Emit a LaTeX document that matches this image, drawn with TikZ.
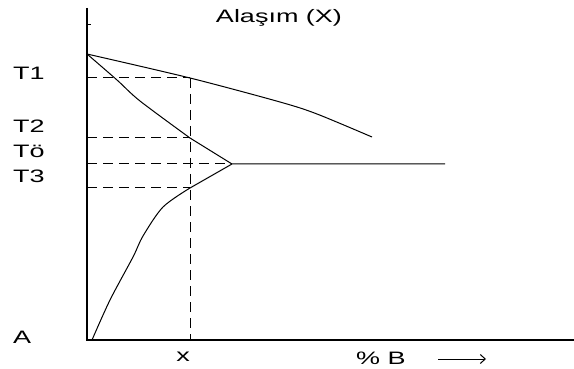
\documentclass[tikz,border=0pt]{standalone}
\usepackage{fontspec}
\newfontfamily\lab[FakeStretch=1.5]{Liberation Sans}
\usetikzlibrary{arrows.meta}
\tikzset{
  axis/.style={line width=1.5pt},
  curve/.style={line width=1pt},
  guide/.style={line width=1pt, dash pattern=on 10pt off 6pt},
  lbl/.style={font=\lab\fontsize{18}{20}\selectfont, inner sep=0pt}
}
\begin{document}
\begin{tikzpicture}[x=1pt,y=-1pt]
\useasboundingbox (0,0) rectangle (574,369);
% coordinates
\coordinate (top) at (87,8);
\coordinate (O) at (87,340);
\coordinate (xend) at (574,340);
\coordinate (tick) at (91,25);
\coordinate (tickb) at (87,25);
\coordinate (TA) at (87,54);
\coordinate (P1) at (190,78);
\coordinate (Lend) at (372,137);
\coordinate (P2) at (190,138);
\coordinate (E) at (232,164);
\coordinate (Eend) at (445,164);
\coordinate (P3) at (190,188);
\coordinate (B0) at (92,340);
\coordinate (Y1) at (87,78);
\coordinate (Y2) at (87,138);
\coordinate (Y3) at (87,164);
\coordinate (Y4) at (87,188);
\coordinate (Xb) at (190,340);
% axes
\draw[axis] (top) -- (O) -- (xend);
\draw[curve] (tickb) -- (tick);
% curves
\draw[curve] plot[smooth, tension=0.5] coordinates {(87,54) (190,78) (280,102) (317,114) (372,137)};
\draw[curve] plot[smooth, tension=0.5] coordinates {(87,54) (117,80) (140,101) (190,138)};
\draw[curve] (P2) -- (E) -- (Eend);
\draw[curve] (E) -- (P3);
\draw[curve] plot[smooth, tension=0.5] coordinates {(190,188) (163,207) (143,236) (133,257) (110,300) (92,340)};
% guides
\draw[guide] (Y1) -- (P1);
\draw[guide] (Y2) -- (P2);
\draw[guide] (Y3) -- (E);
\draw[guide] (Y4) -- (P3);
\draw[guide] (P1) -- (Xb);
% labels
\node[lbl] (title) at (279,18) {Alaşım (X)};
\node[lbl, anchor=west] (t1) at (13,73) {T1};
\node[lbl, anchor=west] (t2) at (13,126) {T2};
\node[lbl, anchor=west] (to) at (13,151) {Tö};
\node[lbl, anchor=west] (t3) at (13,176) {T3};
\node[lbl, anchor=west] (a) at (13,337) {A};
\node[lbl] (xl) at (183,357) {x};
\node[lbl] (pb) at (381,358) {\% B};
\coordinate (ar1) at (438,359);
\coordinate (ar2) at (486,359);
\draw[curve, -{Straight Barb[length=5pt,width=9pt]}] (ar1) -- (ar2);
\end{tikzpicture}
\end{document}
